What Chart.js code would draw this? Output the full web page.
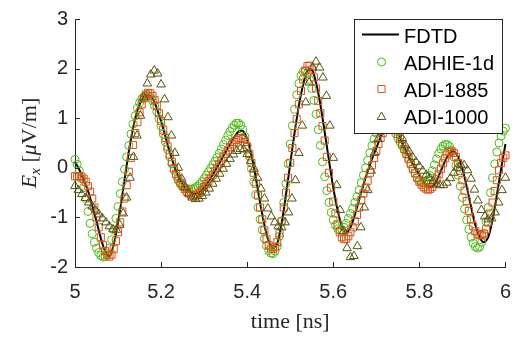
<!DOCTYPE html>
<html><head><meta charset="utf-8">
<script src="https://cdn.jsdelivr.net/npm/chart.js@4.4.1/dist/chart.umd.min.js"></script>
<style>html,body{margin:0;padding:0;background:#fff}canvas{display:block}</style>
</head><body>
<canvas id="c" width="524" height="339"></canvas>
<script>
// ---- data ----
const seriesNames = ['FDTD', 'ADHIE-1d', 'ADI-1885', 'ADI-1000'];
const xTicks = [5, 5.2, 5.4, 5.6, 5.8, 6];
const xTickLabels = ['5', '5.2', '5.4', '5.6', '5.8', '6'];
const yTicks = [-2, -1, 0, 1, 2, 3];
const yTickLabels = ['-2', '-1', '0', '1', '2', '3'];
const xTitle = 'time [ns]';

// FDTD: samples every 0.01 ns from 5.00 ns
const fdtdStart = 5.0, fdtdStep = 0.01;
const fdtdValues = [
  0.12, -0.04, -0.24, -0.46, -0.76, -1.08, -1.42, -1.68, -1.79, -1.55,
  -1.10, -0.55, 0.05, 0.58, 1.00, 1.28, 1.43, 1.47, 1.40, 1.20,
  0.94, 0.63, 0.32, 0.05, -0.17, -0.33, -0.44, -0.50, -0.52, -0.48,
  -0.40, -0.28, -0.14, 0.01, 0.16, 0.32, 0.47, 0.62, 0.73, 0.74,
  0.58, 0.25, -0.20, -0.70, -1.15, -1.48, -1.62, -1.52, -1.12, -0.55,
  0.08, 0.70, 1.25, 1.68, 1.96, 1.98, 1.72, 1.28, 0.72, 0.15,
  -0.40, -0.85, -1.18, -1.30, -1.20, -0.95, -0.65, -0.35, -0.07, 0.18,
  0.40, 0.62, 0.80, 0.90, 0.88, 0.72, 0.50, 0.32, 0.15, 0.00,
  -0.15, -0.28, -0.38, -0.38, -0.26, -0.06, 0.14, 0.29, 0.33, 0.22,
  -0.02, -0.38, -0.78, -1.15, -1.40, -1.50, -1.40, -1.05, -0.55, -0.02,
  0.48
];

// ADHIE-1d: samples every 0.005 ns from 5.000 ns
const adhieStart = 5.0, adhieStep = 0.005;
const adhieValues = [
  0.17, 0.07, -0.06, -0.22, -0.40, -0.62, -0.88, -1.12, -1.33, -1.50,
  -1.62, -1.71, -1.77, -1.80, -1.79, -1.73, -1.62, -1.45, -1.25, -1.02,
  -0.78, -0.52, -0.28, -0.03, 0.22, 0.45, 0.68, 0.88, 1.05, 1.20,
  1.31, 1.39, 1.44, 1.46, 1.45, 1.42, 1.35, 1.25, 1.13, 0.99,
  0.84, 0.68, 0.52, 0.37, 0.22, 0.08, -0.05, -0.16, -0.26, -0.33,
  -0.37, -0.40, -0.42, -0.43, -0.43, -0.42, -0.40, -0.37, -0.33, -0.28,
  -0.22, -0.15, -0.08, -0.01, 0.06, 0.13, 0.21, 0.29, 0.38, 0.47,
  0.56, 0.65, 0.73, 0.80, 0.86, 0.90, 0.90, 0.86, 0.77, 0.63,
  0.45, 0.23, -0.02, -0.28, -0.54, -0.80, -1.04, -1.25, -1.43, -1.57,
  -1.67, -1.72, -1.73, -1.68, -1.58, -1.38, -1.07, -0.70, -0.32, 0.08,
  0.48, 0.85, 1.18, 1.47, 1.70, 1.86, 1.94, 1.95, 1.90, 1.78,
  1.60, 1.36, 1.08, 0.77, 0.45, 0.12, -0.18, -0.46, -0.70, -0.90,
  -1.05, -1.16, -1.23, -1.26, -1.25, -1.20, -1.12, -1.02, -0.92, -0.82,
  -0.70, -0.58, -0.45, -0.30, -0.15, 0.00, 0.15, 0.30, 0.45, 0.58,
  0.70, 0.80, 0.88, 0.94, 0.97, 0.97, 0.93, 0.86, 0.78, 0.69,
  0.60, 0.52, 0.44, 0.36, 0.27, 0.18, 0.08, -0.02, -0.11, -0.20,
  -0.26, -0.30, -0.31, -0.29, -0.24, -0.16, -0.06, 0.06, 0.18, 0.29,
  0.38, 0.44, 0.47, 0.47, 0.43, 0.35, 0.22, 0.05, -0.15, -0.37,
  -0.60, -0.83, -1.05, -1.24, -1.40, -1.52, -1.59, -1.62, -1.60, -1.50,
  -1.32, -1.08, -0.80, -0.50, -0.20, 0.08, 0.32, 0.50, 0.64, 0.74,
  0.80
];

// ADI-1885: samples every 0.005 ns from 5.000 ns
const adi1885Start = 5.0, adi1885Step = 0.005;
const adi1885Values = [
  -0.17, -0.17, -0.17, -0.18, -0.22, -0.28, -0.37, -0.48, -0.62, -0.80,
  -1.00, -1.20, -1.40, -1.56, -1.68, -1.76, -1.79, -1.75, -1.64, -1.48,
  -1.30, -1.10, -0.88, -0.62, -0.35, -0.08, 0.20, 0.46, 0.70, 0.92,
  1.12, 1.28, 1.40, 1.48, 1.51, 1.50, 1.45, 1.37, 1.25, 1.10,
  0.94, 0.77, 0.60, 0.43, 0.27, 0.12, -0.01, -0.12, -0.22, -0.30,
  -0.37, -0.43, -0.48, -0.52, -0.55, -0.56, -0.56, -0.54, -0.50, -0.45,
  -0.39, -0.33, -0.27, -0.21, -0.14, -0.07, 0.00, 0.07, 0.14, 0.21,
  0.28, 0.35, 0.41, 0.47, 0.52, 0.56, 0.59, 0.60, 0.58, 0.52,
  0.42, 0.28, 0.10, -0.10, -0.32, -0.56, -0.80, -1.04, -1.26, -1.44,
  -1.56, -1.63, -1.64, -1.60, -1.50, -1.32, -1.08, -0.80, -0.50, -0.20,
  0.10, 0.40, 0.70, 0.98, 1.28, 1.55, 1.78, 1.96, 2.05, 2.06,
  1.98, 1.82, 1.60, 1.35, 1.10, 0.84, 0.55, 0.22, -0.10, -0.40,
  -0.68, -0.92, -1.14, -1.30, -1.40, -1.44, -1.43, -1.38, -1.30, -1.20,
  -1.08, -0.95, -0.80, -0.65, -0.52, -0.40, -0.26, -0.10, 0.05, 0.20,
  0.34, 0.48, 0.60, 0.70, 0.80, 0.87, 0.90, 0.90, 0.85, 0.77,
  0.68, 0.58, 0.48, 0.38, 0.28, 0.18, 0.08, -0.02, -0.11, -0.20,
  -0.28, -0.34, -0.39, -0.42, -0.44, -0.43, -0.39, -0.32, -0.23, -0.13,
  -0.02, 0.09, 0.19, 0.27, 0.32, 0.33, 0.30, 0.22, 0.10, -0.06,
  -0.25, -0.46, -0.67, -0.87, -1.04, -1.18, -1.28, -1.34, -1.36, -1.36,
  -1.33, -1.24, -1.10, -0.92, -0.70, -0.47, -0.25, -0.05, 0.10, 0.20,
  0.25
];

// ADI-1000: samples every 0.008 ns from 5.000 ns
const adi1000Start = 5.0, adi1000Step = 0.008;
const adi1000Values = [
  -0.37, -0.45, -0.53, -0.61, -0.70, -0.78, -0.86, -0.94, -1.02, -1.10,
  -1.18, -1.24, -1.25, -1.15, -0.92, -0.60, -0.20, 0.22, 0.65, 1.05,
  1.42, 1.70, 1.88, 1.96, 1.90, 1.68, 1.38, 1.02, 0.65, 0.30,
  0.00, -0.22, -0.40, -0.52, -0.60, -0.63, -0.62, -0.57, -0.50, -0.42,
  -0.32, -0.22, -0.12, -0.02, 0.08, 0.18, 0.27, 0.34, 0.38, 0.37,
  0.28, 0.14, -0.02, -0.20, -0.42, -0.62, -0.82, -0.98, -1.10, -1.18,
  -1.20, -1.10, -0.90, -0.62, -0.25, 0.30, 0.85, 1.32, 1.72, 2.02,
  2.14, 2.02, 1.82, 1.45, 0.85, 0.20, -0.35, -0.85, -1.28, -1.62,
  -1.80, -1.78, -1.58, -1.20, -0.80, -0.45, -0.06, 0.30, 0.58, 0.80,
  0.95, 1.03, 1.02, 0.92, 0.76, 0.60, 0.45, 0.33, 0.22, 0.12,
  0.03, -0.06, -0.14, -0.21, -0.27, -0.32, -0.35, -0.35, -0.30, -0.21,
  -0.10, 0.00, 0.06, 0.05, -0.05, -0.22, -0.44, -0.66, -0.85, -0.98,
  -1.04, -1.02, -0.90, -0.70, -0.45, -0.20
];

// ---- build points ----
function toPoints(start, step, values) {
  return values.map((v, i) => ({ x: +(start + step * i).toFixed(4), y: v }));
}

const GREEN = '#4cbb17', ORANGE = '#d95319', OLIVE = '#55550f', AXIS = '#262626';

const datasets = [
  { label: seriesNames[0], data: toPoints(fdtdStart, fdtdStep, fdtdValues),
    showLine: true, borderColor: '#000', borderWidth: 2, pointRadius: 0, tension: 0.3, order: 4, clip: false },
  { label: seriesNames[1], data: toPoints(adhieStart, adhieStep, adhieValues),
    showLine: false, pointStyle: 'circle', pointRadius: 4, pointBorderWidth: 1,
    borderColor: GREEN, backgroundColor: 'rgba(0,0,0,0)', order: 3, clip: false },
  { label: seriesNames[2], data: toPoints(adi1885Start, adi1885Step, adi1885Values),
    showLine: false, pointStyle: 'rect', pointRadius: 5, pointBorderWidth: 1,
    borderColor: ORANGE, backgroundColor: 'rgba(0,0,0,0)', order: 2, clip: false },
  { label: seriesNames[3], data: toPoints(adi1000Start, adi1000Step, adi1000Values),
    showLine: false, pointStyle: 'triangle', pointRadius: 5, pointBorderWidth: 1,
    borderColor: OLIVE, backgroundColor: 'rgba(0,0,0,0)', order: 1, clip: false }
];

function drawMarker(ctx, style, x, y, color) {
  ctx.save();
  ctx.strokeStyle = color; ctx.lineWidth = 1;
  ctx.beginPath();
  if (style === 'circle') {
    ctx.arc(x, y, 4, 0, Math.PI * 2);
  } else if (style === 'rect') {
    const s = 5 * Math.SQRT1_2;
    ctx.rect(x - s, y - s, 2 * s, 2 * s);
  } else if (style === 'triangle') {
    const r = 5;
    ctx.moveTo(x, y - r);
    ctx.lineTo(x + r * Math.sin(2 * Math.PI / 3), y - r * Math.cos(2 * Math.PI / 3));
    ctx.lineTo(x + r * Math.sin(4 * Math.PI / 3), y - r * Math.cos(4 * Math.PI / 3));
    ctx.closePath();
  }
  ctx.stroke();
  ctx.restore();
}

const decor = {
  id: 'decor',
  afterDraw(chart) {
    const { ctx, chartArea: a, scales: { x, y } } = chart;
    ctx.save();
    // inward tick marks (MATLAB style)
    ctx.strokeStyle = AXIS; ctx.lineWidth = 1;
    ctx.beginPath();
    xTicks.forEach(v => {
      const px = Math.round(x.getPixelForValue(v)) + 0.5;
      ctx.moveTo(px, a.bottom); ctx.lineTo(px, a.bottom - 5);
    });
    yTicks.forEach(v => {
      const py = Math.round(y.getPixelForValue(v)) + 0.5;
      ctx.moveTo(a.left, py); ctx.lineTo(a.left + 5, py);
    });
    ctx.stroke();

    // legend box
    const L = { x: 354.5, y: 19.5, w: 148, h: 114 };
    ctx.fillStyle = '#fff';
    ctx.fillRect(L.x, L.y, L.w, L.h);
    ctx.strokeStyle = AXIS; ctx.lineWidth = 1;
    ctx.strokeRect(L.x, L.y, L.w, L.h);
    const rowsMark = [34.5, 62, 89, 116];
    const rowsText = [37, 64.5, 91.5, 118.5];
    // FDTD line sample
    ctx.strokeStyle = '#000'; ctx.lineWidth = 2;
    ctx.beginPath(); ctx.moveTo(362, rowsMark[0]); ctx.lineTo(399, rowsMark[0]); ctx.stroke();
    drawMarker(ctx, 'circle', 381.5, rowsMark[1], GREEN);
    drawMarker(ctx, 'rect', 381.5, rowsMark[2], ORANGE);
    drawMarker(ctx, 'triangle', 381.5, rowsMark[3] + 1, OLIVE);
    ctx.fillStyle = '#000';
    ctx.font = '20px "Liberation Sans", Arial, sans-serif';
    ctx.textAlign = 'left'; ctx.textBaseline = 'middle';
    seriesNames.forEach((n, i) => ctx.fillText(n, 404, rowsText[i]));

    // x axis title
    ctx.fillStyle = AXIS;
    ctx.font = '22px "Liberation Serif", "DejaVu Serif", serif';
    ctx.textAlign = 'center'; ctx.textBaseline = 'alphabetic';
    ctx.fillText(xTitle, (a.left + a.right) / 2, 328);

    // y axis title: E_x [μV/m] (rotated)
    const parts = [
      { t: 'E', f: 'italic 22px "Liberation Serif", serif', dy: 0 },
      { t: 'x', f: 'italic 15px "Liberation Serif", serif', dy: 4 },
      { t: ' [', f: '22px "Liberation Serif", serif', dy: 0 },
      { t: 'μ', f: 'italic 22px "Liberation Serif", serif', dy: 0 },
      { t: 'V/m]', f: '22px "Liberation Serif", serif', dy: 0 }
    ];
    let total = 0;
    parts.forEach(p => { ctx.font = p.f; p.w = ctx.measureText(p.t).width; total += p.w; });
    ctx.translate(36, (a.top + a.bottom) / 2);
    ctx.rotate(-Math.PI / 2);
    ctx.textAlign = 'left';
    let cx = -total / 2;
    parts.forEach(p => { ctx.font = p.f; ctx.fillText(p.t, cx, p.dy); cx += p.w; });
    ctx.restore();
  }
};

new Chart(document.getElementById('c'), {
  type: 'scatter',
  data: { datasets },
  options: {
    responsive: false,
    animation: false,
    devicePixelRatio: 1,
    layout: { padding: { left: 0, right: 9.5, top: 7, bottom: 0 }, autoPadding: false },
    plugins: { legend: { display: false }, tooltip: { enabled: false } },
    scales: {
      x: {
        type: 'linear', min: 5, max: 6,
        afterBuildTicks: s => { s.ticks = xTicks.map(v => ({ value: v })); },
        afterFit: s => { s.height = 72; },
        grid: { display: false, drawTicks: false },
        border: { display: true, color: AXIS, width: 1 },
        ticks: { padding: 13, color: AXIS, maxRotation: 0, autoSkip: false,
          font: { family: '"Liberation Sans", Arial, sans-serif', size: 20 },
          callback: (v, i) => xTickLabels[i] }
      },
      y: {
        type: 'linear', min: -2, max: 3,
        afterBuildTicks: s => { s.ticks = yTicks.map(v => ({ value: v })); },
        afterFit: s => { s.width = 75; },
        grid: { display: false, drawTicks: false },
        border: { display: true, color: AXIS, width: 1 },
        ticks: { padding: 7, color: AXIS, autoSkip: false,
          font: { family: '"Liberation Sans", Arial, sans-serif', size: 20 },
          callback: (v, i) => yTickLabels[i] }
      }
    }
  },
  plugins: [decor]
});
</script>
</body></html>
